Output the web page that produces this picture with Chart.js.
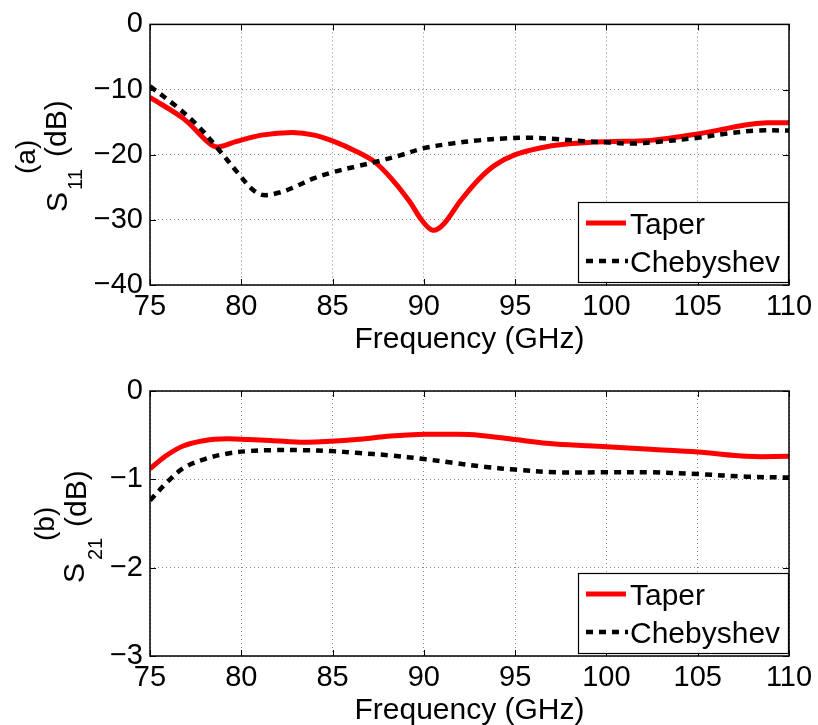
<!DOCTYPE html>
<html>
<head>
<meta charset="utf-8">
<script src="https://cdn.jsdelivr.net/npm/chart.js@4.4.0/dist/chart.umd.min.js"></script>
<style>
body { margin: 0; background: #fff; }
#wrap { position: relative; width: 818px; height: 725px; }
#c1 { position: absolute; left: 0; top: 0; }
#c2 { position: absolute; left: 0; top: 362px; }
</style>
</head>
<body>
<div id="wrap">
<canvas id="c1" width="818" height="362"></canvas>
<canvas id="c2" width="818" height="363"></canvas>
</div>
<script>
// ticks
var freqTicks = [75, 80, 85, 90, 95, 100, 105, 110];
var s11Ticks = [0, -10, -20, -30, -40];
var s21Ticks = [0, -1, -2, -3];

// (a) S11
var s11TaperFreq = [75, 76.85, 78.27, 78.74, 79.7, 81.1, 82.8, 84.0, 85.1, 86.3, 87.3, 88.2, 89.2, 89.9, 90.5, 91.1, 92.0, 93.0, 93.9, 95.0, 96.3, 97.7, 100, 102.4, 105, 107.7, 108.8, 110];
var s11Taper = [-11.2, -14.5, -18.3, -18.8, -18.0, -17.0, -16.6, -17.0, -18.0, -19.5, -21.1, -23.6, -27.1, -30.1, -31.6, -30.6, -27.1, -23.8, -21.6, -20.0, -19.0, -18.4, -18.0, -17.8, -16.8, -15.4, -15.1, -15.1];
var s11ChebFreq = [75, 76.4, 77.6, 78.7, 79.9, 80.6, 81.2, 82.1, 82.8, 84.0, 85, 86.3, 87.5, 88.7, 90, 91.5, 93.0, 94.4, 95.8, 97.2, 98.6, 100, 101.3, 102.9, 105, 106.5, 108.1, 110];
var s11Cheb = [-9.5, -12.5, -15.5, -19.0, -23.1, -25.3, -26.2, -25.8, -25.1, -23.6, -22.7, -21.8, -21.0, -20.1, -19.0, -18.3, -17.8, -17.5, -17.4, -17.6, -17.9, -18.1, -18.3, -18.0, -17.4, -16.8, -16.3, -16.3];

// (b) S21
var s21TaperFreq = [75, 75.9, 76.85, 78, 79.2, 80.4, 81.6, 83.5, 84.9, 86.3, 88.2, 90, 91.5, 93.0, 95, 97.2, 100, 102.4, 105, 107.7, 110];
var s21Taper = [-0.88, -0.73, -0.62, -0.56, -0.54, -0.55, -0.56, -0.58, -0.57, -0.55, -0.51, -0.49, -0.49, -0.50, -0.55, -0.60, -0.63, -0.66, -0.69, -0.74, -0.74];
var s21ChebFreq = [75, 75.9, 76.85, 78, 79.2, 80.4, 81.6, 83.5, 84.9, 86.3, 88.2, 90, 91.5, 93.4, 95, 97.2, 100, 102.4, 105, 107.7, 110];
var s21Cheb = [-1.24, -1.04, -0.87, -0.77, -0.71, -0.68, -0.67, -0.67, -0.68, -0.70, -0.73, -0.77, -0.81, -0.86, -0.89, -0.92, -0.92, -0.92, -0.94, -0.97, -0.98];

var FONT = "'Liberation Sans', Arial, Helvetica, sans-serif";
Chart.defaults.font.family = FONT;
Chart.defaults.color = '#000';

function pts(xs, ys) {
  return xs.map(function(x, i) { return { x: x, y: ys[i] }; });
}
function minus(v) {
  return v < 0 ? '\u2212' + Math.abs(v) : '' + v;
}

// box, inward ticks, legend, axis titles (matlab look)
function framePlugin(cfg) {
  return {
    id: 'frame',
    afterDatasetsDraw: function(chart) {
      var ctx = chart.ctx, a = chart.chartArea;
      var xs = chart.scales.x, ys = chart.scales.y;
      ctx.save();
      ctx.strokeStyle = '#000';
      ctx.lineWidth = 1;
      ctx.beginPath();
      freqTicks.forEach(function(f) {
        var px = Math.round(xs.getPixelForValue(f)) + 0.5;
        ctx.moveTo(px, a.bottom); ctx.lineTo(px, a.bottom - 6);
        ctx.moveTo(px, a.top); ctx.lineTo(px, a.top + 6);
      });
      cfg.yTicks.forEach(function(v) {
        var py = Math.round(ys.getPixelForValue(v)) + 0.5;
        ctx.moveTo(a.left, py); ctx.lineTo(a.left + 6, py);
        ctx.moveTo(a.right, py); ctx.lineTo(a.right - 6, py);
      });
      ctx.stroke();
      ctx.lineWidth = 1.5;
      ctx.strokeRect(a.left, a.top, a.right - a.left, a.bottom - a.top);

      // legend
      var bw = 210, bh = 80;
      var bx = a.right - 1 - bw, by = a.bottom - 3 - bh;
      ctx.fillStyle = '#fff';
      ctx.fillRect(bx, by, bw, bh);
      ctx.lineWidth = 1.2;
      ctx.strokeRect(bx + 0.5, by + 0.5, bw, bh);
      ctx.lineWidth = 5;
      ctx.strokeStyle = '#ff0000';
      ctx.beginPath(); ctx.moveTo(bx + 8, by + 21); ctx.lineTo(bx + 48, by + 21); ctx.stroke();
      ctx.lineWidth = 4.5;
      ctx.strokeStyle = '#000';
      ctx.setLineDash([7, 6]);
      ctx.beginPath(); ctx.moveTo(bx + 8, by + 59); ctx.lineTo(bx + 50, by + 59); ctx.stroke();
      ctx.setLineDash([]);
      ctx.fillStyle = '#000';
      ctx.font = '30px ' + FONT;
      ctx.textAlign = 'left';
      ctx.textBaseline = 'alphabetic';
      ctx.fillText('Taper', bx + 52, by + 32);
      ctx.fillText('Chebyshev', bx + 52, by + 70);

      // x title
      ctx.textAlign = 'center';
      ctx.fillText('Frequency (GHz)', (a.left + a.right) / 2, a.bottom + 63);

      // y title pieces, rotated
      ctx.textAlign = 'left';
      cfg.yLabel.forEach(function(p) {
        ctx.save();
        ctx.translate(p.x, p.y);
        ctx.rotate(-Math.PI / 2);
        ctx.font = p.size + 'px ' + FONT;
        ctx.fillText(p.t, 0, 0);
        ctx.restore();
      });
      ctx.restore();
    }
  };
}

function makeChart(id, taper, cheb, ymin, ymax, yTicks, xHeight, padTop, yLabel) {
  var ctx = document.getElementById(id);
  return new Chart(ctx, {
    type: 'line',
    data: {
      datasets: [{
        label: 'Taper',
        data: taper,
        borderColor: '#ff0000',
        borderWidth: 5,
        tension: 0.35,
        order: 1
      }, {
        label: 'Chebyshev',
        data: cheb,
        borderColor: '#000',
        borderWidth: 4.5,
        borderDash: [7, 6],
        borderCapStyle: 'butt',
        tension: 0.35,
        order: 0
      }]
    },
    options: {
      responsive: false,
      animation: false,
      layout: { padding: { left: 0, right: 29, top: padTop, bottom: 0 } },
      elements: { point: { radius: 0 } },
      plugins: { legend: { display: false }, tooltip: { enabled: false } },
      scales: {
        x: {
          type: 'linear', min: 75, max: 110,
          afterBuildTicks: function(s) { s.ticks = freqTicks.map(function(v) { return { value: v }; }); },
          afterFit: function(s) { s.height = xHeight; },
          grid: { color: '#8a8a8a', lineWidth: 1, drawTicks: false },
          border: { display: false, dash: [1, 3] },
          ticks: { font: { size: 29 }, padding: 5, maxRotation: 0, autoSkip: false }
        },
        y: {
          type: 'linear', min: ymin, max: ymax,
          afterBuildTicks: function(s) { s.ticks = yTicks.map(function(v) { return { value: v }; }); },
          afterFit: function(s) { s.width = 150; },
          grid: { color: '#8a8a8a', lineWidth: 1, drawTicks: false },
          border: { display: false, dash: [1, 3] },
          ticks: { font: { size: 29 }, padding: 7, callback: function(v) { return minus(v); } }
        }
      }
    },
    plugins: [framePlugin({ yTicks: yTicks, yLabel: yLabel })]
  });
}

var chartA = makeChart('c1', pts(s11TaperFreq, s11Taper), pts(s11ChebFreq, s11Cheb), -40, 0, s11Ticks, 77, 21, [
  { t: 'S', size: 30, x: 67, y: 212 },
  { t: '11', size: 20, x: 82, y: 190 },
  { t: '(a)', size: 28, x: 35, y: 174 },
  { t: '(dB)', size: 30, x: 66, y: 157 }
]);

var chartB = makeChart('c2', pts(s21TaperFreq, s21Taper), pts(s21ChebFreq, s21Cheb), -3, 0, s21Ticks, 69, 29, [
  { t: 'S', size: 30, x: 84, y: 221 },
  { t: '21', size: 20, x: 102, y: 198 },
  { t: '(b)', size: 28, x: 54, y: 179 },
  { t: '(dB)', size: 30, x: 86, y: 165 }
]);
</script>
</body>
</html>
